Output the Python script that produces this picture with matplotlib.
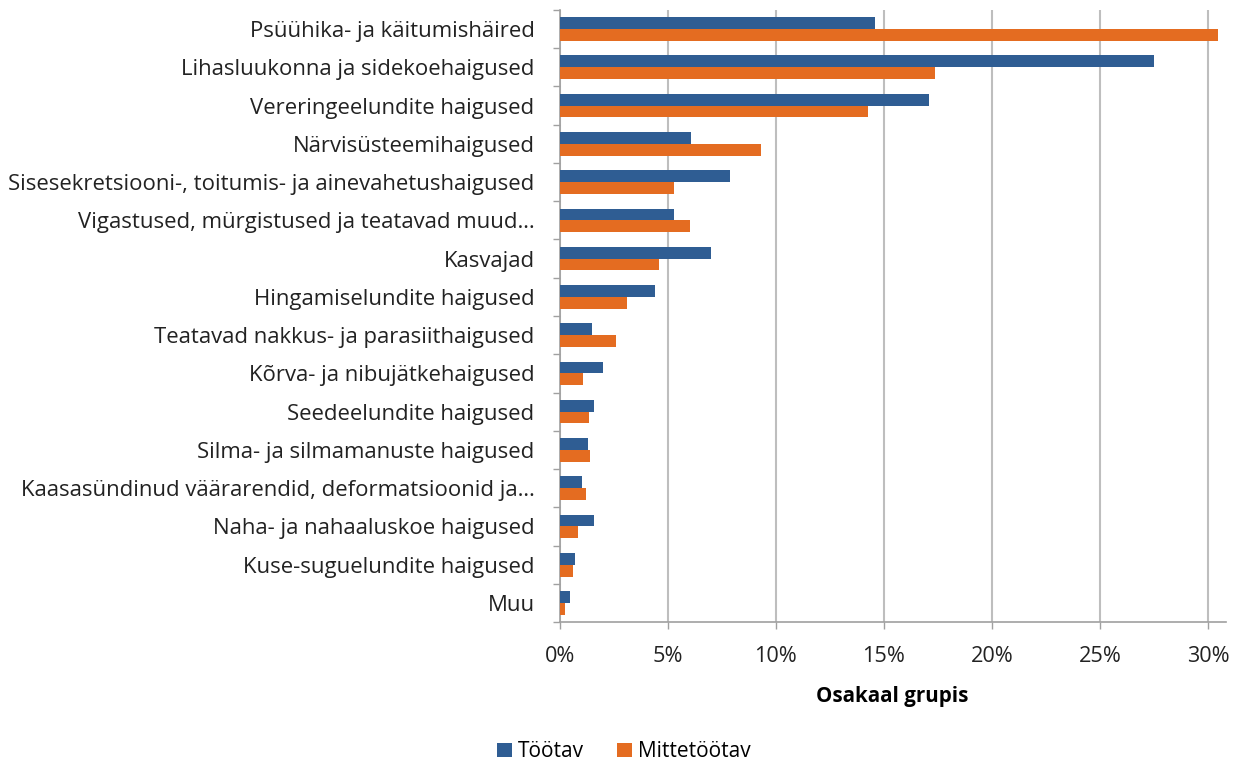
"""Osakaal grupis: diagnoosigrupid töötavate ja mittetöötavate lõikes."""
import matplotlib

matplotlib.use("Agg")
import matplotlib.pyplot as plt
import numpy as np
from matplotlib.ticker import FuncFormatter, FixedLocator

CATEGORIES = [
    "Psüühika- ja käitumishäired",
    "Lihasluukonna ja sidekoehaigused",
    "Vereringeelundite haigused",
    "Närvisüsteemihaigused",
    "Sisesekretsiooni-, toitumis- ja ainevahetushaigused",
    "Vigastused, mürgistused ja teatavad muud…",
    "Kasvajad",
    "Hingamiselundite haigused",
    "Teatavad nakkus- ja parasiithaigused",
    "Kõrva- ja nibujätkehaigused",
    "Seedeelundite haigused",
    "Silma- ja silmamanuste haigused",
    "Kaasasündinud väärarendid, deformatsioonid ja…",
    "Naha- ja nahaaluskoe haigused",
    "Kuse-suguelundite haigused",
    "Muu",
]
TOOTAV = [14.6, 27.5, 17.1, 6.1, 7.9, 5.3, 7.0, 4.4, 1.5, 2.0, 1.6, 1.3, 1.05, 1.6, 0.7, 0.5]
MITTETOOTAV = [30.45, 17.35, 14.25, 9.3, 5.3, 6.05, 4.6, 3.1, 2.6, 1.1, 1.35, 1.4, 1.2, 0.85, 0.6, 0.25]
SERIES = ["Töötav", "Mittetöötav"]
X_TICKS = [0, 5, 10, 15, 20, 25, 30]

BLUE = "#2F5D93"
ORANGE = "#E46C21"
GRID = "#BEBEBE"
TEXT = "#222222"

plt.rcParams["font.family"] = ["Open Sans", "DejaVu Sans"]


def main() -> None:
    fig = plt.figure(figsize=(12.38, 7.67), dpi=100)
    ax = fig.add_axes([0.452, 0.189, 0.538, 0.798])

    y = np.arange(len(CATEGORIES))
    h = 0.31
    ax.barh(y - h / 2, TOOTAV, height=h, color=BLUE, label=SERIES[0], zorder=3)
    ax.barh(y + h / 2, MITTETOOTAV, height=h, color=ORANGE, label=SERIES[1], zorder=3)

    ax.set_ylim(len(CATEGORIES) - 0.5, -0.5)
    ax.set_xlim(0, 30.8)

    ax.set_yticks(y)
    ax.set_yticklabels(CATEGORIES, fontsize=15.9, color=TEXT)
    ax.tick_params(axis="y", length=0, pad=18)
    ax.yaxis.set_minor_locator(FixedLocator(np.arange(-0.5, len(CATEGORIES), 1.0)))
    ax.tick_params(axis="y", which="minor", length=5, color="#A0A0A0", width=1)

    ax.set_xticks(X_TICKS)
    ax.xaxis.set_major_formatter(FuncFormatter(lambda v, _: f"{v:.0f}%"))
    ax.tick_params(axis="x", length=5, color="#A0A0A0", width=1,
                   labelsize=15.6, labelcolor=TEXT, pad=12)
    ax.grid(axis="x", color=GRID, linewidth=1.5, zorder=0)

    for side in ("top", "right"):
        ax.spines[side].set_visible(False)
    for side in ("left", "bottom"):
        ax.spines[side].set_color("#A0A0A0")
        ax.spines[side].set_linewidth(1.2)

    ax.set_xlabel("Osakaal grupis", fontsize=14.8, fontweight="bold", labelpad=14)

    fig.legend(loc="center", bbox_to_anchor=(0.504, 0.02), ncol=2, frameon=False,
               fontsize=15, handlelength=0.7, handleheight=0.7,
               handletextpad=0.3, columnspacing=1.6, borderaxespad=0.1,
               borderpad=0.1)

    fig.savefig("out.png", dpi=100)
    plt.close(fig)


if __name__ == "__main__":
    main()
